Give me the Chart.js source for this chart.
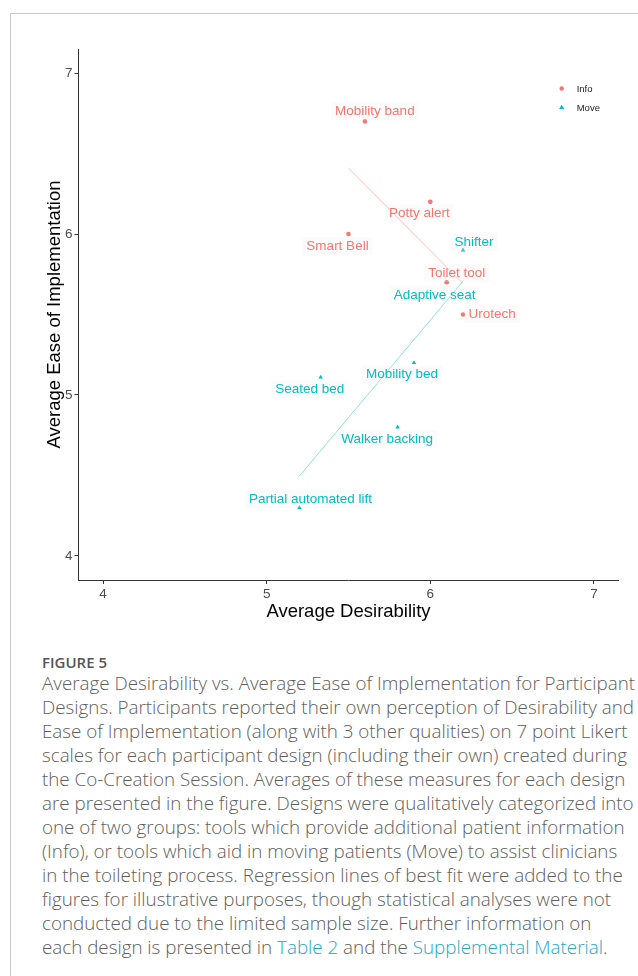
<!DOCTYPE html>
<html>
<head>
<meta charset="utf-8">
<script src="https://cdn.jsdelivr.net/npm/chart.js@4/dist/chart.umd.min.js"></script>
<style>
  html, body { margin: 0; padding: 0; background: #fff; overflow: hidden; width: 638px; height: 976px; }
  #frame { position: absolute; left: 10px; top: 13px; width: 700px; height: 1000px; border: 1px solid #c9c9c9; box-sizing: border-box; }
  #wrap { position: absolute; left: 0; top: 0; width: 638px; height: 640px; }
  #caption { position: absolute; left: 42px; top: 650px; white-space: nowrap; font-family: "Open Sans", sans-serif; color: #5e5e5e; }
  #caption .fig { font-size: 15px; font-weight: 600; color: #555; line-height: 24px; height: 21px; }
  #caption .body { font-size: 18.8px; font-weight: 300; line-height: 24px; }
  #caption a { color: #22a9c2; text-decoration: none; }
</style>
</head>
<body>
<div id="frame"></div>
<div id="wrap"><canvas id="chart" width="638" height="640"></canvas></div>
<div id="caption">
  <div class="fig">FIGURE 5</div>
  <div class="body">Average Desirability vs. Average Ease of Implementation for Participant<br>Designs. Participants reported their own perception of Desirability and<br>Ease of Implementation (along with 3 other qualities) on 7 point Likert<br>scales for each participant design (including their own) created during<br>the Co-Creation Session. Averages of these measures for each design<br>are presented in the figure. Designs were qualitatively categorized into<br>one of two groups: tools which provide additional patient information<br>(Info), or tools which aid in moving patients (Move) to assist clinicians<br>in the toileting process. Regression lines of best fit were added to the<br>figures for illustrative purposes, though statistical analyses were not<br>conducted due to the limited sample size. Further information on<br>each design is presented in <a>Table 2</a> and the <a>Supplemental Material</a>.</div>
</div>
<script>
// Designs that provide extra patient information
const infoNames = ['Mobility band', 'Potty alert', 'Smart Bell', 'Toilet tool', 'Urotech'];
const infoDesirability = [5.6, 6.0, 5.5, 6.1, 6.2];
const infoEase = [6.7, 6.2, 6.0, 5.7, 5.5];

// Designs that help move patients
const moveNames = ['Shifter', 'Adaptive seat', 'Mobility bed', 'Seated bed', 'Walker backing', 'Partial automated lift'];
const moveDesirability = [6.2, 6.1, 5.9, 5.33, 5.8, 5.2];
const moveEase = [5.9, 5.7, 5.2, 5.11, 4.8, 4.3];

// Axis ticks
const xTicks = [4, 5, 6, 7];
const yTicks = [4, 5, 6, 7];

// Label placement around each point (pixel offset of the text centre)
const infoLabelOffsets = [[10, -10], [-11, 11.5], [-11, 12], [10, -9.5], [29, -0.5]];
const moveLabelOffsets = [[11, -8], [-12, 12.5], [-12, 12], [-11, 12], [-10.5, 12.3], [11, -8.7]];

const INFO = '#F8766D';
const MOVE = '#00BFC4';
const FONT = '"Liberation Sans", Arial, sans-serif';

const toPoints = (xs, ys) => xs.map((x, i) => ({ x, y: ys[i] }));

// Ordinary least-squares line over the x-range of a group
function fitLine(xs, ys) {
  const n = xs.length;
  const mx = xs.reduce((a, b) => a + b, 0) / n;
  const my = ys.reduce((a, b) => a + b, 0) / n;
  let sxy = 0, sxx = 0;
  for (let i = 0; i < n; i++) { sxy += (xs[i] - mx) * (ys[i] - my); sxx += (xs[i] - mx) ** 2; }
  const b = sxy / sxx, a = my - b * mx;
  const lo = Math.min(...xs), hi = Math.max(...xs);
  return [{ x: lo, y: a + b * lo }, { x: hi, y: a + b * hi }];
}

const pointLabels = {
  id: 'pointLabels',
  afterDatasetsDraw(chart) {
    const ctx = chart.ctx;
    const groups = [
      { meta: chart.getDatasetMeta(0), names: infoNames, offs: infoLabelOffsets, color: INFO },
      { meta: chart.getDatasetMeta(1), names: moveNames, offs: moveLabelOffsets, color: MOVE }
    ];
    ctx.save();
    ctx.font = '13.5px ' + FONT;
    ctx.textAlign = 'center';
    ctx.textBaseline = 'middle';
    groups.forEach(g => {
      g.meta.data.forEach((pt, i) => {
        const cx = pt.x + g.offs[i][0];
        const cy = pt.y + g.offs[i][1];
        const w = ctx.measureText(g.names[i]).width;
        ctx.fillStyle = 'rgba(235,235,235,0.22)';
        ctx.fillRect(cx - w / 2 - 4, cy - 9, w + 8, 18);
        ctx.fillStyle = g.color;
        ctx.fillText(g.names[i], cx, cy);
      });
    });
    ctx.restore();
  }
};

const sideLegend = {
  id: 'sideLegend',
  afterDraw(chart) {
    const ctx = chart.ctx;
    const area = chart.chartArea;
    const items = [
      { text: 'Info', style: 'circle', color: INFO },
      { text: 'Move', style: 'triangle', color: MOVE }
    ];
    ctx.save();
    ctx.font = '9.5px ' + FONT;
    ctx.textBaseline = 'middle';
    items.forEach((it, i) => {
      const x = area.right - 56.8;
      const y = area.top + 39.5 + i * 19;
      ctx.fillStyle = it.color;
      ctx.beginPath();
      if (it.style === 'circle') { ctx.arc(x, y, 2.2, 0, Math.PI * 2); }
      else { ctx.moveTo(x, y - 2.8); ctx.lineTo(x + 2.6, y + 1.6); ctx.lineTo(x - 2.6, y + 1.6); ctx.closePath(); }
      ctx.fill();
      ctx.fillStyle = '#1a1a1a';
      ctx.fillText(it.text, x + 15, y + 0.5);
    });
    ctx.restore();
  }
};

new Chart(document.getElementById('chart'), {
  type: 'scatter',
  data: {
    datasets: [
      { label: 'Info', data: toPoints(infoDesirability, infoEase), pointStyle: 'circle', pointRadius: 2.3,
        backgroundColor: INFO, borderWidth: 0, order: 0 },
      { label: 'Move', data: toPoints(moveDesirability, moveEase), pointStyle: 'triangle', pointRadius: 2.6,
        backgroundColor: MOVE, borderWidth: 0, order: 1 },
      { type: 'line', label: 'Info fit', data: fitLine(infoDesirability, infoEase), borderColor: 'rgba(248,118,109,0.45)',
        borderWidth: 1, pointRadius: 0, fill: false, order: 2 },
      { type: 'line', label: 'Move fit', data: fitLine(moveDesirability, moveEase), borderColor: 'rgba(0,191,196,0.45)',
        borderWidth: 1, pointRadius: 0, fill: false, order: 3 }
    ]
  },
  options: {
    responsive: false,
    animation: false,
    layout: { padding: { left: 0, right: 19.5, top: 49, bottom: 0 } },
    plugins: { legend: { display: false }, tooltip: { enabled: false } },
    scales: {
      x: {
        type: 'linear', min: 3.85, max: 7.15,
        afterBuildTicks: s => { s.ticks = xTicks.map(v => ({ value: v })); },
        afterFit: s => { s.height = 60; },
        ticks: { color: '#4d4d4d', font: { family: FONT, size: 13.5 }, padding: 2 },
        grid: { drawOnChartArea: false, tickLength: 4, color: '#333', lineWidth: 1 },
        border: { color: '#333', width: 1 },
        title: { display: true, text: 'Average Desirability', color: '#000', font: { family: FONT, size: 18.5, lineHeight: 1 }, padding: { top: 0, bottom: 19 } }
      },
      y: {
        type: 'linear', min: 3.85, max: 7.15,
        afterBuildTicks: s => { s.ticks = yTicks.map(v => ({ value: v })); },
        afterFit: s => { s.width = 78.5; },
        ticks: { color: '#4d4d4d', font: { family: FONT, size: 13.5 }, padding: 2 },
        grid: { drawOnChartArea: false, tickLength: 4, color: '#333', lineWidth: 1 },
        border: { color: '#333', width: 1 },
        title: { display: true, text: 'Average Ease of Implementation', color: '#000', font: { family: FONT, size: 18.5, lineHeight: 1 }, padding: { top: 46, bottom: 0 } }
      }
    }
  },
  plugins: [pointLabels, sideLegend]
});
</script>
</body>
</html>
